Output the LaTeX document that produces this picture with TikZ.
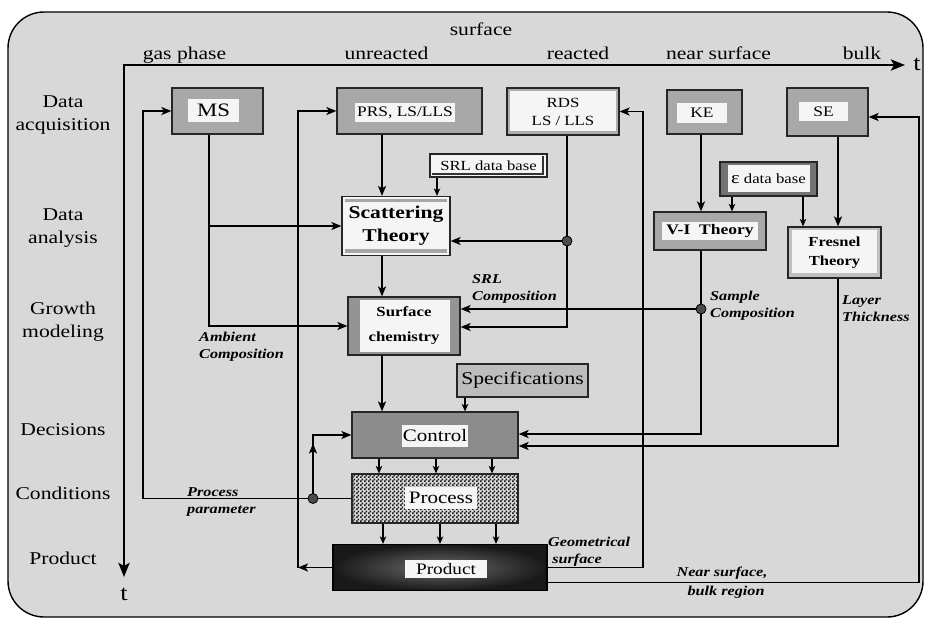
\documentclass[tikz,border=0pt]{standalone}
\usepackage{fontspec}
\setmainfont{Liberation Serif}[FakeStretch=1.2]
\usetikzlibrary{arrows.meta,patterns,calc}
\definecolor{bg}{HTML}{D8D8D8}
\definecolor{boxgray}{HTML}{A8A8A8}
\definecolor{lblwhite}{HTML}{F5F5F5}
\pgfdeclarepatternformonly{finecheck}{\pgfpointorigin}{\pgfqpoint{4pt}{4pt}}{\pgfqpoint{4pt}{4pt}}{%
  \pgfpathrectangle{\pgfpointorigin}{\pgfqpoint{2pt}{2pt}}%
  \pgfpathrectangle{\pgfqpoint{2pt}{2pt}}{\pgfqpoint{2pt}{2pt}}%
  \pgfusepath{fill}}
\begin{document}
\begin{tikzpicture}[x=1pt,y=-1pt,
  box/.style={draw=black!85, line width=1.2pt, inner sep=0pt, fill=boxgray},
  lbl/.style={fill=lblwhite, inner sep=0pt},
  con/.style={line width=1.9pt, -{Stealth[length=10pt,width=8pt,inset=2.5pt]}},
  sm/.style={line width=1.3pt, -{Stealth[length=7.5pt,width=6.5pt,inset=2pt]}},
  dot/.style={circle, fill=black!70, draw=black, line width=0.8pt, minimum size=10pt, inner sep=0pt},
  ann/.style={font=\fontsize{13.5}{17}\selectfont\bfseries\itshape, align=left, inner sep=0pt, anchor=west},
  side/.style={font=\fontsize{18}{23}\selectfont, align=center, inner sep=0pt},
  toplab/.style={font=\fontsize{18}{20}\selectfont, anchor=base, inner sep=0pt}
]
\useasboundingbox (0,0) rectangle (925,621);
% frame
\draw[fill=bg, line width=1.4pt, rounded corners=36pt] (8,12) rectangle (923,617);

% axes
\coordinate (xe) at (905,65);
\coordinate (ye) at (124,577);
\draw[line width=2.8pt, {Stealth[length=14pt,width=11pt,inset=3pt]}-{Stealth[length=14pt,width=11pt,inset=3pt]}] (xe) -| (ye);
\node[font=\fontsize{22}{22}\selectfont, inner sep=0pt] (tx) at (917,64) {t};
\node[font=\fontsize{22}{22}\selectfont, inner sep=0pt] (ty) at (124,594) {t};

% top labels
\node[toplab] (lsurf) at (481,35) {surface};
\node[toplab] (lgas) at (184.5,59) {gas phase};
\node[toplab] (lunr) at (386.5,59) {unreacted};
\node[toplab] (lrea) at (578,59) {reacted};
\node[toplab] (lnear) at (718.5,59) {near surface};
\node[toplab] (lbulk) at (862,59) {bulk};

% side labels
\node[side] (sacq) at (63,115) {Data\\acquisition};
\node[side] (sana) at (63,228.5) {Data\\analysis};
\node[side] (sgro) at (63,322) {Growth\\modeling};
\node[side] (sdec) at (63,430) {Decisions};
\node[side] (scon) at (63,493) {Conditions};
\node[side] (sprod) at (63,558) {Product};

% boxes
\node[box, minimum width=91pt, minimum height=46pt] (ms) at (217.5,111) {};
\node[lbl, minimum width=51pt, minimum height=23pt, font=\fontsize{19}{20}\selectfont] (msl) at (213.5,110.5) {MS};

\node[box, minimum width=145pt, minimum height=46pt] (prs) at (409.5,111) {};
\node[lbl, minimum width=100pt, minimum height=19pt, font=\fontsize{14.5}{16}\selectfont] (prsl) at (405,112.5) {PRS, LS/LLS};

\node[box, fill=lblwhite, minimum width=117pt, minimum height=23pt, font=\fontsize{13.9}{15}\selectfont,
  path picture={\draw[black!80, line width=1.2pt] ([shift={(-4pt,-2pt)}]path picture bounding box.north east) -- ([shift={(-4pt,3pt)}]path picture bounding box.south east) -- ([shift={(2pt,3pt)}]path picture bounding box.south west);}] (srl) at (488.5,165.5) {SRL data base};

\node[box, fill=black!32, minimum width=112pt, minimum height=47pt, align=center, font=\fontsize{14}{18}\selectfont,
  path picture={\fill[lblwhite] ([shift={(3pt,4pt)}]path picture bounding box.south west) rectangle ([shift={(-3pt,-3pt)}]path picture bounding box.north east);}] (rds) at (563,111.5) {RDS\\LS / LLS};

\node[box, minimum width=75pt, minimum height=44pt] (ke) at (704.5,112) {};
\node[lbl, minimum width=50pt, minimum height=20pt, font=\fontsize{14.5}{16}\selectfont] (kel) at (702,113) {KE};

\node[box, minimum width=81pt, minimum height=48pt] (se) at (827.5,112) {};
\node[lbl, minimum width=49pt, minimum height=19pt, font=\fontsize{14.5}{16}\selectfont] (sel) at (823.5,111.5) {SE};

\node[box, fill=black!55, minimum width=97pt, minimum height=34pt, font=\fontsize{14}{16}\selectfont,
  path picture={\fill[lblwhite] ([shift={(8pt,4pt)}]path picture bounding box.south west) rectangle ([shift={(-7pt,-3pt)}]path picture bounding box.north east);}] (eps) at (768.5,179) {{\fontsize{17}{16}\selectfont ε} data base};

\node[box, minimum width=112pt, minimum height=38pt] (vi) at (710,231) {};
\node[lbl, minimum width=96pt, minimum height=18pt, font=\fontsize{14.6}{16}\selectfont\bfseries] (vil) at (710,231) {V-I\ \ Theory};

\node[box, fill=black!25, minimum width=93pt, minimum height=51pt, align=center, font=\fontsize{13.8}{19}\selectfont\bfseries,
  path picture={\fill[lblwhite] ([shift={(4pt,5pt)}]path picture bounding box.south west) rectangle ([shift={(-4pt,-3pt)}]path picture bounding box.north east);}] (fresnel) at (834.5,252.5) {Fresnel\\Theory};

\node[box, fill=lblwhite, minimum width=108pt, minimum height=59pt, align=center, font=\fontsize{18}{23}\selectfont\bfseries,
  path picture={\fill[black!35] ([shift={(3pt,-2pt)}]path picture bounding box.north west) rectangle ([shift={(-3pt,-5pt)}]path picture bounding box.north east);
    \fill[black!35] ([shift={(3pt,3pt)}]path picture bounding box.south west) rectangle ([shift={(-3pt,7pt)}]path picture bounding box.south east);}] (scat) at (396,226) {Scattering\\Theory};

\node[box, fill=black!42, minimum width=112pt, minimum height=58pt, align=center, font=\fontsize{14}{25}\selectfont\bfseries,
  path picture={\fill[lblwhite] ([shift={(12pt,3pt)}]path picture bounding box.south west) rectangle ([shift={(-10pt,-3pt)}]path picture bounding box.north east);}] (surf) at (404,326) {Surface\\chemistry};

\node[box, fill=black!26, minimum width=131pt, minimum height=33pt, font=\fontsize{18}{20}\selectfont] (spec) at (522.5,380.5) {Specifications};

\node[box, fill=black!45, minimum width=166pt, minimum height=46pt] (control) at (435,435) {};
\node[lbl, minimum width=66pt, minimum height=22pt, font=\fontsize{17.5}{19}\selectfont] (controll) at (435,436) {Control};

\node[box, preaction={fill=black!15}, pattern=finecheck, pattern color=black!90, minimum width=166pt, minimum height=49pt] (process) at (435,498.5) {};
\node[lbl, minimum width=72pt, minimum height=22pt, font=\fontsize{17.5}{19}\selectfont] (processl) at (441,498) {Process};

\node[box, draw=black, inner color=black!58, outer color=black!90, minimum width=214pt, minimum height=46pt] (product) at (440,567.5) {};
\node[lbl, minimum width=82pt, minimum height=18pt, font=\fontsize{16}{17}\selectfont] (productl) at (446,569) {Product};

% helper x positions
\coordinate (msx) at (209,0);
\coordinate (lx) at (143,0);
\coordinate (fx) at (298,0);
\coordinate (gx) at (643,0);
\coordinate (nx) at (919,0);
\coordinate (px) at (382,0);
\coordinate (sx) at (437,0);
\coordinate (rx) at (567,0);
\coordinate (spx) at (465,0);
\coordinate (vx) at (701,0);
\coordinate (fnx) at (838,0);
\coordinate (ex1) at (732,0);
\coordinate (ex2) at (803,0);
\coordinate (pdx) at (313,0);
\coordinate (rd) at (567,241);
\coordinate (vd) at (701,309);
\coordinate (pd) at (pdx |- process.west);
\coordinate (sein) at ($(se.east)+(0,5)$);
\coordinate (nsout) at ($(product.east)+(0,15)$);

% connectors
\draw[con] (ms.south -| msx) |- (surf.west);
\draw[con] (msx |- scat.west) -- (scat.west);
\draw[con] (process.west) -| (lx |- ms.west) -- (ms.west);
\draw[con] (pd) -- ++(0,-55);
\draw[con] (pd) |- (control.west);
\draw[con] (product.west) -- (fx |- product.west);
\draw[con] (product.west) -| (fx |- prs.west) -- (prs.west);
\draw[con] (product.east) -| (gx |- rds.east) -- (rds.east);
\draw[con] (nsout) -| (nx |- sein) -- (sein);
\draw[con] (prs.south -| px) -- (scat.north -| px);
\draw[sm] (srl.south -| sx) -- (scat.north -| sx);
\draw[con] (rds.south -| rx) |- ($(surf.east)+(0,1)$);
\draw[con] (rd) -- (scat.east |- rd);
\draw[con] (scat.south -| px) -- (surf.north -| px);
\draw[con] (surf.south -| px) -- (control.north -| px);
\draw[sm] (spec.south -| spx) -- (control.north -| spx);
\draw[con] (vi.south -| vx) |- ($(control.east)+(0,-1)$);
\draw[con] (vd) -- (surf.east |- vd);
\draw[con] (fresnel.south -| fnx) |- ($(control.east)+(0,11)$);
\draw[con] (ke.south -| vx) -- (vi.north -| vx);
\draw[sm] (eps.south -| ex1) -- (vi.north -| ex1);
\draw[sm] (eps.south -| ex2) -- (fresnel.north -| ex2);
\draw[con] (se.south -| fnx) -- (fresnel.north -| fnx);
\foreach \xx [count=\i] in {379,436,492} {
  \coordinate (cp\i) at (\xx,0);
  \draw[sm] (control.south -| cp\i) -- (process.north -| cp\i);
}
\foreach \xx [count=\i] in {383,440,496} {
  \coordinate (pp\i) at (\xx,0);
  \draw[sm] (process.south -| pp\i) -- (product.north -| pp\i);
}

% junction dots
\node[dot] (pdot) at (pd) {};
\node[dot] (rdot) at (rd) {};
\node[dot] (vdot) at (vd) {};

% annotations
\node[ann] (aamb) at (199,346.5) {Ambient\\Composition};
\node[ann] (asrl) at (472,289) {SRL\\Composition};
\node[ann] (asam) at (710,306) {Sample\\Composition};
\node[ann] (alay) at (842,308.5) {Layer\\Thickness};
\node[ann] (apro) at (187,502) {Process\\parameter};
\node[ann] (ageo) at (548,551.5) {Geometrical\\\ surface};
\node[ann, anchor=center, align=center, font=\fontsize{13.5}{19}\selectfont\bfseries\itshape] (anear) at (722,583) {Near surface,\\\ \ bulk region};
\end{tikzpicture}
\end{document}
